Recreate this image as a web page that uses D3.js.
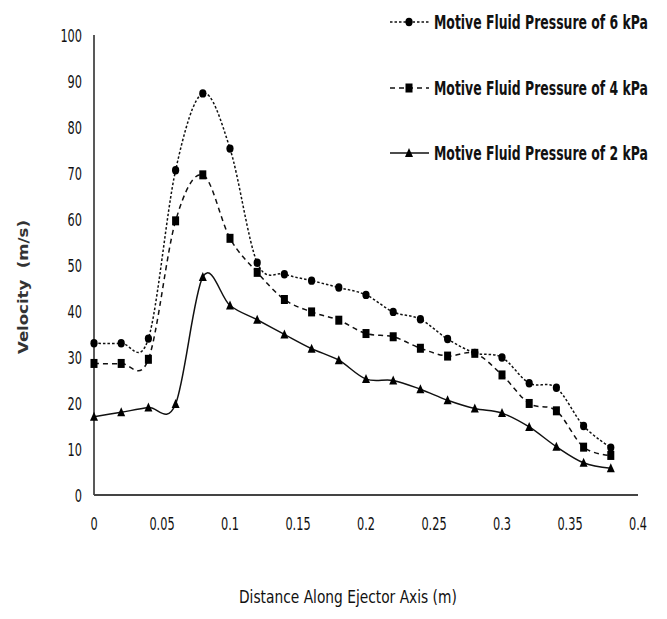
<!DOCTYPE html>
<html>
<head>
<meta charset="utf-8">
<script src="https://cdn.jsdelivr.net/npm/d3@7"></script>
<style>
  body { margin: 0; background: #fff; }
  text { font-family: "DejaVu Sans Condensed", "DejaVu Sans", sans-serif; fill: #111; }
</style>
</head>
<body>
<div id="chart"></div>
<script>
// data
let distance = [0, 0.02, 0.04, 0.06, 0.08, 0.1, 0.12, 0.14, 0.16, 0.18, 0.2, 0.22, 0.24, 0.26, 0.28, 0.3, 0.32, 0.34, 0.36, 0.38];
let p6 = [33, 33, 34, 70.6, 87.3, 75.3, 50.5, 48, 46.6, 45.1, 43.5, 39.8, 38.2, 33.9, 30.9, 29.9, 24.3, 23.3, 15, 10.3];
let p4 = [28.6, 28.6, 29.5, 59.6, 69.6, 55.8, 48.4, 42.5, 39.8, 38, 35.1, 34.4, 31.9, 30.2, 30.8, 26.1, 19.9, 18.3, 10.4, 8.6];
let p2 = [17, 18, 19, 19.8, 47.4, 41.2, 38.1, 34.9, 31.8, 29.3, 25.2, 24.9, 23, 20.6, 18.8, 17.8, 14.8, 10.5, 7, 5.8];
let xTicks = [0, 0.05, 0.1, 0.15, 0.2, 0.25, 0.3, 0.35, 0.4];
let yTicks = [0, 10, 20, 30, 40, 50, 60, 70, 80, 90, 100];
let seriesNames = ["Motive Fluid Pressure of 6 kPa", "Motive Fluid Pressure of 4 kPa", "Motive Fluid Pressure of 2 kPa"];

let W = 667, H = 619;

let svg = d3.select('#chart').append('svg')
  .attr('width', W).attr('height', H);

let x = d3.scaleLinear().domain([0, 0.4]).range([94, 638]);
let y = d3.scaleLinear().domain([0, 100]).range([495, 35]);

// narrow text: the original font is a condensed one, squeeze it horizontally
function narrow(tx, ty, str, size, sx, anchor, weight) {
  return svg.append('text')
    .attr('transform', `translate(${tx},${ty}) scale(${sx},1)`)
    .attr('text-anchor', anchor)
    .style('font-size', size + 'px')
    .style('font-weight', weight || 'normal')
    .text(str);
}
// squeeze a left-anchored text so it is exactly w pixels wide
function fitText(tx, ty, str, size, w, weight) {
  let t = narrow(tx, ty, str, size, 1, 'start', weight);
  let len = t.node().getComputedTextLength();
  t.attr('transform', `translate(${tx},${ty}) scale(${w / len},1)`);
  return t;
}

// axes lines
svg.append('line').attr('x1', x(0)).attr('x2', x(0)).attr('y1', y(100)).attr('y2', y(0))
  .attr('stroke', '#222').attr('stroke-width', 1.5);
svg.append('line').attr('x1', x(0)).attr('x2', x(0.4)).attr('y1', y(0)).attr('y2', y(0))
  .attr('stroke', '#444').attr('stroke-width', 2);

// tick labels
yTicks.forEach(d => narrow(82, y(d) + 6.5, d, 17.5, 0.72, 'end'));
xTicks.forEach(d => narrow(x(d), 530, d, 17.5, 0.72, 'middle'));

// axis titles
svg.append('text')
  .attr('transform', 'translate(28,287) rotate(-90)')
  .attr('text-anchor', 'middle')
  .attr('textLength', 134).attr('lengthAdjust', 'spacingAndGlyphs')
  .style('font-family', '"DejaVu Sans", sans-serif')
  .style('font-weight', 'bold').style('font-size', '14px')
  .style('fill', '#333')
  .style('white-space', 'pre')
  .text('Velocity  (m/s)');

fitText(239, 603, 'Distance Along Ejector Axis (m)', 18, 218);

let series = [
  { name: seriesNames[0], vals: p6, dash: '2.5,2', marker: 'circle' },
  { name: seriesNames[1], vals: p4, dash: '5,4', marker: 'square' },
  { name: seriesNames[2], vals: p2, dash: null, marker: 'triangle' }
];

let line = d3.line()
  .x(d => x(d[0])).y(d => y(d[1]))
  .curve(d3.curveCardinal.tension(0));

function drawMarker(g, type, cx, cy) {
  if (type === 'circle') {
    g.append('ellipse').attr('cx', cx).attr('cy', cy).attr('rx', 3.6).attr('ry', 4.2).attr('fill', '#000');
  } else if (type === 'square') {
    g.append('rect').attr('x', cx - 3.5).attr('y', cy - 4.5).attr('width', 7).attr('height', 9).attr('fill', '#000');
  } else {
    g.append('path').attr('d', `M${cx},${cy - 5}L${cx + 4},${cy + 4}L${cx - 4},${cy + 4}Z`).attr('fill', '#000');
  }
}

series.forEach(s => {
  let pts = distance.map((d, i) => [d, s.vals[i]]);
  svg.append('path').datum(pts)
    .attr('d', line)
    .attr('fill', 'none')
    .attr('stroke', '#111')
    .attr('stroke-width', 1.5)
    .attr('stroke-dasharray', s.dash);
  let g = svg.append('g');
  pts.forEach(p => drawMarker(g, s.marker, x(p[0]), y(p[1])));
});

// legend
let legY = [22, 88, 153];
series.forEach((s, i) => {
  let g = svg.append('g');
  g.append('line').attr('x1', 390).attr('x2', 429).attr('y1', legY[i]).attr('y2', legY[i])
    .attr('stroke', '#111').attr('stroke-width', 1.5).attr('stroke-dasharray', s.dash);
  drawMarker(g, s.marker, 409, legY[i]);
  fitText(434, legY[i] + 7, s.name, 19, 214, 'bold');
});
</script>
</body>
</html>
